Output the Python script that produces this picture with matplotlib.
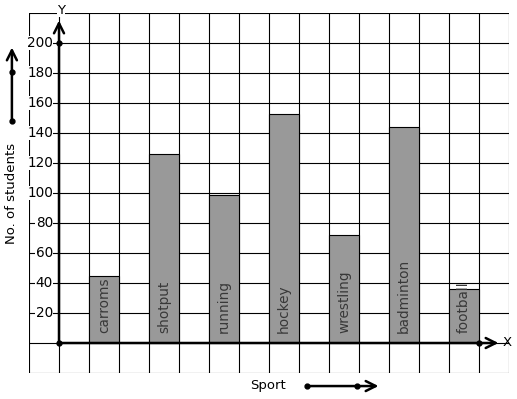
import matplotlib.pyplot as plt

sports = ['carroms', 'shotput', 'running', 'hockey', 'wrestling', 'badminton', 'football']
students = [45, 126, 99, 153, 72, 144, 36]
bar_pos = [1.5, 3.5, 5.5, 7.5, 9.5, 11.5, 13.5]
y_ticks = [20, 40, 60, 80, 100, 120, 140, 160, 180, 200]

fig = plt.figure(figsize=(5.17, 3.99), dpi=100)
ax = fig.add_axes([29 / 517, 26 / 399, 480 / 517, 360 / 399])
ax.set_xlim(-1, 15)
ax.set_ylim(-20, 220)
ax.axis('off')

# grid
for gx in range(-1, 16):
    ax.plot([gx, gx], [-20, 220], color='black', lw=0.8, zorder=1)
for gy in range(-20, 221, 20):
    ax.plot([-1, 15], [gy, gy], color='black', lw=0.8, zorder=1)

# bars
ax.bar(bar_pos, students, width=1.0, color='#999999', edgecolor='black',
       linewidth=0.8, zorder=2)
for xp, name in zip(bar_pos, sports):
    ax.text(xp, 6.5, name, rotation=90, ha='center', va='bottom',
            fontsize=9.8, color='#383838', zorder=3)

arrow = dict(arrowstyle='->', lw=1.8, color='black', mutation_scale=18,
             shrinkA=0, shrinkB=0)

# axes with arrows
ax.annotate('', xy=(0, 215), xytext=(0, 0), arrowprops=arrow, zorder=4)
ax.annotate('', xy=(14.65, 0), xytext=(0, 0), arrowprops=arrow, zorder=4)
ax.plot([0, 0, 14], [0, 200, 0], 'o', color='black', ms=3.5, zorder=5)

for t in y_ticks:
    ax.text(-0.2, t, str(t), ha='right', va='center', fontsize=9.8,
            bbox=dict(facecolor='white', edgecolor='none', pad=0.3), zorder=3)

ax.text(0.07, 222, 'Y', ha='center', va='center', fontsize=9.5,
        bbox=dict(facecolor='white', edgecolor='none', pad=0.3), zorder=3)
ax.text(14.8, 0, 'X', ha='left', va='center', fontsize=9.5, clip_on=False)

# side labels with decorative arrows
ax.text(-1.57, 100, 'No. of students', rotation=90, ha='center', va='center',
        fontsize=9.5, clip_on=False)
ax.annotate('', xy=(-1.57, 197), xytext=(-1.57, 148), arrowprops=arrow,
            annotation_clip=False)
ax.plot([-1.57, -1.57], [148, 181], 'o', color='black', ms=3.5, clip_on=False)

ax.text(6.97, -28, 'Sport', ha='center', va='center', fontsize=9.5, clip_on=False)
ax.annotate('', xy=(10.65, -28.7), xytext=(8.27, -28.7), arrowprops=arrow,
            annotation_clip=False)
ax.plot([8.27, 9.93], [-28.7, -28.7], 'o', color='black', ms=3.5, clip_on=False)

fig.savefig('out.png', dpi=100)
